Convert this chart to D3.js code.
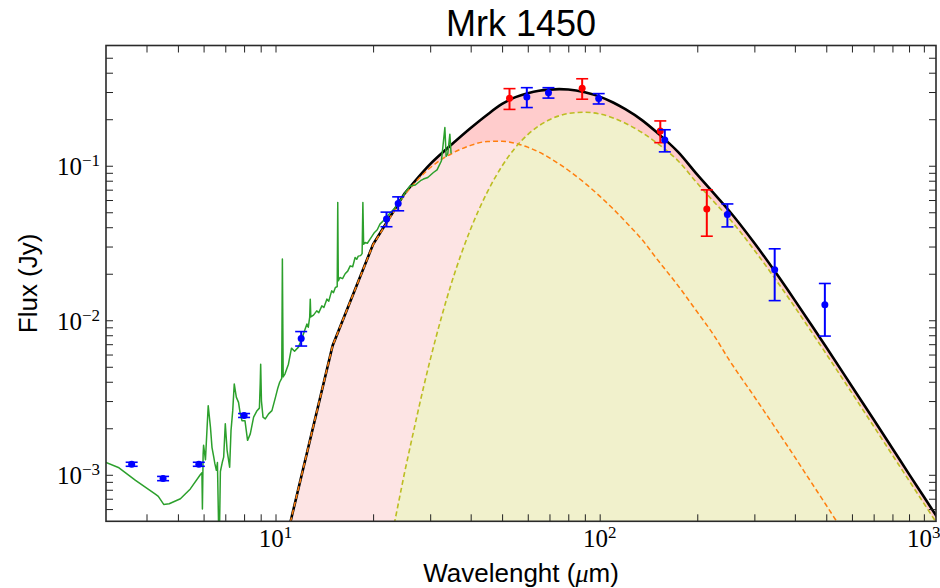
<!DOCTYPE html>
<html>
<head>
<meta charset="utf-8">
<script src="https://cdn.jsdelivr.net/npm/d3@7"></script>
<style>
  body { margin: 0; background: #fff; }
</style>
</head>
<body>
<div id="chart"></div>
<script>
// model grid (micron) and the three model curves (Jy)
var waveModel = [10, 15, 20, 25, 30, 35, 40, 45, 50, 55,
                 60, 65, 70, 75, 80, 90, 100, 110, 120, 135,
                 150, 175, 200, 225, 250, 300, 350, 400, 450, 500,
                 600, 700, 800, 900, 1000, 1100];
var totalFlux = [1.95e-4, 6.85e-3, 0.031, 0.066, 0.1025, 0.1377, 0.1755, 0.214, 0.251, 0.278,
                 0.295, 0.306, 0.311, 0.3131, 0.3115, 0.2992, 0.2801, 0.2566, 0.2321, 0.1973,
                 0.1645, 0.122, 0.0875, 0.0662, 0.0515, 0.0316, 0.0202, 0.01345, 0.00931, 0.00668,
                 0.00373, 0.00228, 0.00148, 0.00101, 7.2e-4, 5.3e-4];
var warmFlux  = [1.95e-4, 6.85e-3, 0.0309, 0.065, 0.097, 0.120, 0.1355, 0.1435, 0.1442, 0.1396,
                 0.1319, 0.1225, 0.1125, 0.1026, 0.0935, 0.0772, 0.0636, 0.0526, 0.0436, 0.0333,
                 0.0250, 0.0166, 0.0113, 0.0080, 0.0056, 0.0032, 0.00198, 0.00130, 8.9e-4, 6.35e-4,
                 3.5e-4, 2.15e-4, 1.4e-4, 9.6e-5, 6.9e-5, 5.1e-5];
var coldFlux  = [1e-10, 2e-6, 1e-4, 1.03e-3, 5.54e-3, 0.01773, 0.039, 0.0675, 0.0997, 0.1314,
                 0.1591, 0.1815, 0.1985, 0.2105, 0.218, 0.222, 0.2165, 0.204, 0.1885, 0.164,
                 0.1405, 0.107, 0.077, 0.0585, 0.046, 0.0284, 0.0182, 0.01215, 0.00842, 0.00604,
                 0.00338, 0.00206, 0.00134, 9.17e-4, 6.53e-4, 4.8e-4];

// IR spectrum (green)
var specWave = [3.0, 3.29, 3.7, 4.27, 4.35, 4.52, 4.7, 5.09, 5.46, 5.86,
                5.93, 5.95, 5.98, 6.0, 6.08, 6.2, 6.3, 6.37, 6.45, 6.5,
                6.57, 6.62, 6.7, 6.76, 6.85, 6.92, 7.0, 7.09, 7.22, 7.29,
                7.38, 7.46, 7.57, 7.69, 7.78, 7.88, 8.05, 8.2, 8.36, 8.56,
                8.77, 8.92, 8.97, 9.0, 9.05, 9.15, 9.3, 9.52, 9.75, 10.0,
                10.15, 10.3, 10.45, 10.5, 10.56, 10.7, 10.96, 11.2, 11.45, 11.77,
                12.0, 12.3, 12.5, 12.62, 12.75, 12.8, 12.85, 13.1, 13.4, 13.6,
                13.9, 14.1, 14.4, 14.6, 14.9, 15.1, 15.3, 15.5, 15.56, 15.62,
                15.8, 16.1, 16.4, 16.7, 17.0, 17.3, 17.6, 17.8, 18.0, 18.3,
                18.5, 18.6, 18.7, 18.9, 19.2, 19.6, 20.2, 20.6, 21.0, 21.7,
                22.5, 23.3, 24.2, 25.0, 26.0, 27.0, 28.0, 28.6, 29.5, 30.7,
                31.5, 32.5, 33.3, 33.6, 34.0, 34.5, 34.8];
var specFlux = [1.2e-3, 1.11e-3, 9.2e-4, 7.46e-4, 7.25e-4, 6.43e-4, 6.5e-4, 7.0e-4, 8.1e-4, 1.0e-3,
                1.03e-3, 6.0e-4, 1.35e-3, 1.55e-3, 1.25e-3, 2.8e-3, 2.03e-3, 1.5e-3, 1.3e-3, 1.18e-3,
                1.07e-3, 1.2e-3, 3.0e-4, 1.05e-3, 1.2e-3, 1.3e-3, 2.14e-3, 1.44e-3, 1.12e-3, 1.93e-3,
                2.6e-3, 3.87e-3, 3.18e-3, 2.94e-3, 2.5e-3, 2.24e-3, 2.24e-3, 1.67e-3, 1.84e-3, 2.36e-3,
                2.6e-3, 2.7e-3, 3.87e-3, 5.2e-3, 3.0e-3, 2.36e-3, 2.3e-3, 2.48e-3, 2.6e-3, 3.18e-3,
                3.6e-3, 3.97e-3, 4.2e-3, 0.0249, 4.3e-3, 4.5e-3, 5.2e-3, 6.6e-3, 6.3e-3, 6.7e-3,
                7.4e-3, 8.6e-3, 9.46e-3, 9.0e-3, 0.0105, 0.0137, 0.0105, 0.0108, 0.0115, 0.0112,
                0.0124, 0.0121, 0.0137, 0.0133, 0.0155, 0.0151, 0.0163, 0.0165, 0.0578, 0.018,
                0.0189, 0.0186, 0.020, 0.0208, 0.0225, 0.0222, 0.0255, 0.0248, 0.026, 0.0262,
                0.027, 0.0578, 0.031, 0.0319, 0.0315, 0.0336, 0.037, 0.0385, 0.0419, 0.0449,
                0.049, 0.053, 0.059, 0.066, 0.074, 0.075, 0.080, 0.082, 0.084, 0.0904,
                0.094, 0.1077, 0.1766, 0.115, 0.12, 0.16, 0.12];

// photometry
var blueWave = [3.6, 4.5, 5.8, 8.0, 12.0, 22.0, 23.9, 59.6, 69.5, 99.3, 158.8, 247.7, 346.6, 495];
var blueFlux = [1.17e-3, 9.46e-4, 1.17e-3, 2.42e-3, 7.63e-3, 0.0452, 0.057, 0.279, 0.297, 0.272, 0.147, 0.0484, 0.0212, 0.0126];
var blueErr  = [3.5e-5, 3e-5, 3.5e-5, 7e-5, 8.2e-4, 4.9e-3, 5.9e-3, 0.041, 0.023, 0.021, 0.024, 0.0082, 0.0078, 0.0047];

var redWave = [52.7, 88.3, 153.8, 214];
var redFlux = [0.2735, 0.3175, 0.168, 0.0524];
var redErr  = [0.042, 0.048, 0.027, 0.0174];

// ticks
var xMinor = [4, 5, 6, 7, 8, 9, 20, 30, 40, 50, 60, 70, 80, 90, 200, 300, 400, 500, 600, 700, 800, 900];
var xMajor = [10, 100, 1000];
var xMajorExp = ["1", "2", "3"];
var yMinor = [6e-4, 7e-4, 8e-4, 9e-4, 2e-3, 3e-3, 4e-3, 5e-3, 6e-3, 7e-3, 8e-3, 9e-3,
              0.02, 0.03, 0.04, 0.05, 0.06, 0.07, 0.08, 0.09, 0.2, 0.3, 0.4, 0.5];
var yMajor = [1e-3, 1e-2, 1e-1];
var yMajorExp = ["\u22123", "\u22122", "\u22121"];

(function () {
    var width = 940,
        height = 588;
    var left = 106, right = 936, top = 45.5, bottom = 521.3;

    var x = d3.scaleLog().domain([3, 1090]).range([left, right]);
    var y = d3.scaleLog().domain([5e-4, 0.6]).range([bottom, top]);

    var svg = d3.select("#chart")
        .append("svg")
        .attr("width", width)
        .attr("height", height);

    svg.append("defs").append("clipPath")
        .attr("id", "clip")
        .append("rect")
        .attr("x", left).attr("y", top)
        .attr("width", right - left).attr("height", bottom - top);

    var plot = svg.append("g").attr("clip-path", "url(#clip)");

    var model = waveModel.map(function (w, i) {
        return { w: w, total: totalFlux[i], warm: warmFlux[i], cold: coldFlux[i] };
    });

    // coarse grid below 25 um drawn straight, smooth above
    function topPath(key) {
        var lo = model.filter(function (d) { return d.w <= 25; }),
            hi = model.filter(function (d) { return d.w >= 25; });
        var p1 = d3.line()
            .x(function (d) { return x(d.w); })
            .y(function (d) { return y(d[key]); })(lo);
        var p2 = d3.line().curve(d3.curveMonotoneX)
            .x(function (d) { return x(d.w); })
            .y(function (d) { return y(d[key]); })(hi);
        return p1 + "L" + p2.slice(1);
    }
    function areaPath(key) {
        var first = model[0].w, last = model[model.length - 1].w;
        return topPath(key) + "L" + x(last) + "," + (bottom + 5) +
            "L" + x(first) + "," + (bottom + 5) + "Z";
    }

    // filled components
    plot.append("path").attr("d", areaPath("total")).attr("fill", "#ffcccc");
    plot.append("path").attr("d", areaPath("warm")).attr("fill", "#fde4e4");
    plot.append("path").attr("d", areaPath("cold")).attr("fill", "#f1f1cc");

    plot.append("path").attr("d", topPath("total"))
        .attr("fill", "none").attr("stroke", "#000").attr("stroke-width", 2.6);
    plot.append("path").attr("d", topPath("warm"))
        .attr("fill", "none").attr("stroke", "#ff7f0e").attr("stroke-width", 1.5)
        .attr("stroke-dasharray", "5,3");
    plot.append("path").attr("d", topPath("cold"))
        .attr("fill", "none").attr("stroke", "#bcbd22").attr("stroke-width", 1.6)
        .attr("stroke-dasharray", "5,3");

    // spectrum
    var spec = specWave.map(function (w, i) { return { w: w, f: specFlux[i] }; });
    plot.append("path").datum(spec)
        .attr("d", d3.line().x(function (d) { return x(d.w); }).y(function (d) { return y(d.f); }))
        .attr("fill", "none").attr("stroke", "#2ca02c").attr("stroke-width", 1.5)
        .attr("stroke-linejoin", "round");

    // error bars
    function points(waves, fluxes, errs, colour) {
        var data = waves.map(function (w, i) { return { w: w, f: fluxes[i], e: errs[i] }; });
        var g = svg.append("g");
        var pts = g.selectAll("g").data(data).enter().append("g");
        pts.append("line")
            .attr("x1", function (d) { return x(d.w); })
            .attr("x2", function (d) { return x(d.w); })
            .attr("y1", function (d) { return y(d.f - d.e); })
            .attr("y2", function (d) { return y(d.f + d.e); })
            .attr("stroke", colour).attr("stroke-width", 2);
        [-1, 1].forEach(function (s) {
            pts.append("line")
                .attr("x1", function (d) { return x(d.w) - 6; })
                .attr("x2", function (d) { return x(d.w) + 6; })
                .attr("y1", function (d) { return y(d.f + s * d.e); })
                .attr("y2", function (d) { return y(d.f + s * d.e); })
                .attr("stroke", colour).attr("stroke-width", 1.6);
        });
        pts.append("circle")
            .attr("cx", function (d) { return x(d.w); })
            .attr("cy", function (d) { return y(d.f); })
            .attr("r", 3.5)
            .attr("fill", colour);
    }
    points(redWave, redFlux, redErr, "#ff0000");
    points(blueWave, blueFlux, blueErr, "#0000ff");

    // ticks on all four sides, pointing in
    var allX = xMinor.concat(xMajor), allY = yMinor.concat(yMajor);
    function noDomain(g) { g.select(".domain").remove(); g.selectAll("line").attr("stroke", "#222"); }
    svg.append("g").attr("transform", "translate(0," + bottom + ")")
        .call(d3.axisBottom(x).tickValues(allX).tickSize(-7).tickFormat("")).call(noDomain);
    svg.append("g").attr("transform", "translate(0," + top + ")")
        .call(d3.axisTop(x).tickValues(allX).tickSize(-7).tickFormat("")).call(noDomain);
    svg.append("g").attr("transform", "translate(" + left + ",0)")
        .call(d3.axisLeft(y).tickValues(allY).tickSize(-7).tickFormat("")).call(noDomain);
    svg.append("g").attr("transform", "translate(" + right + ",0)")
        .call(d3.axisRight(y).tickValues(allY).tickSize(-7).tickFormat("")).call(noDomain);

    svg.append("rect")
        .attr("x", left).attr("y", top)
        .attr("width", right - left).attr("height", bottom - top)
        .attr("fill", "none").attr("stroke", "#2a2a2a").attr("stroke-width", 1.6);

    // tick labels
    var serif = "'Liberation Serif', 'DejaVu Serif', serif";
    xMajor.forEach(function (v, i) {
        var t = svg.append("text")
            .attr("x", x(v)).attr("y", bottom + 25.5)
            .attr("text-anchor", "middle")
            .attr("font-family", serif).attr("font-size", 25)
            .text("10");
        t.append("tspan").attr("dy", -9).attr("font-size", 17).text(xMajorExp[i]);
    });
    yMajor.forEach(function (v, i) {
        var t = svg.append("text")
            .attr("x", left - 6).attr("y", y(v) + 9.5)
            .attr("text-anchor", "end")
            .attr("font-family", serif).attr("font-size", 25)
            .text("10");
        t.append("tspan").attr("dy", -9).attr("font-size", 17).text(yMajorExp[i]);
    });

    // titles
    var sans = "'Liberation Sans', 'DejaVu Sans', sans-serif";
    svg.append("text")
        .attr("x", (left + right) / 2).attr("y", 36)
        .attr("text-anchor", "middle")
        .attr("font-family", sans).attr("font-size", 36)
        .text("Mrk 1450");

    var xl = svg.append("text")
        .attr("x", (left + right) / 2).attr("y", 582)
        .attr("text-anchor", "middle")
        .attr("font-family", sans).attr("font-size", 26)
        .text("Wavelenght (");
    xl.append("tspan").attr("font-family", serif).attr("font-style", "italic").text("\u03bc");
    xl.append("tspan").text("m)");

    svg.append("text")
        .attr("transform", "translate(37," + ((top + bottom) / 2) + ") rotate(-90)")
        .attr("text-anchor", "middle")
        .attr("font-family", sans).attr("font-size", 26)
        .text("Flux (Jy)");
})();
</script>
</body>
</html>
